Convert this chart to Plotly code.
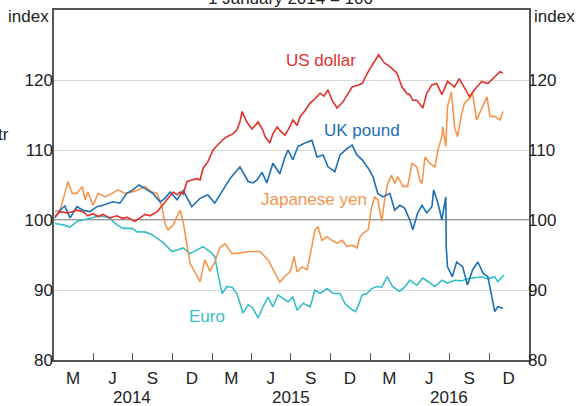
import plotly.graph_objects as go

# Index values (1 January 2014 = 100)
usd_dates = [
    "2014-01-03", "2014-01-15", "2014-02-02", "2014-02-23", "2014-03-09", "2014-03-20",
    "2014-04-01", "2014-04-13", "2014-04-24", "2014-05-10", "2014-05-26", "2014-06-09",
    "2014-06-18", "2014-06-30", "2014-07-07", "2014-07-16", "2014-07-30", "2014-08-11",
    "2014-08-27", "2014-09-07", "2014-09-19", "2014-09-26", "2014-10-03", "2014-10-12",
    "2014-10-19", "2014-10-26", "2014-11-04", "2014-11-15", "2014-11-27", "2014-12-04",
    "2014-12-11", "2014-12-22", "2015-01-03", "2015-01-12", "2015-01-26", "2015-02-04",
    "2015-02-18", "2015-02-27", "2015-03-06", "2015-03-11", "2015-03-22", "2015-04-03",
    "2015-04-17", "2015-04-28", "2015-05-03", "2015-05-14", "2015-05-21", "2015-05-31",
    "2015-06-06", "2015-06-18", "2015-06-30", "2015-07-06", "2015-07-16", "2015-07-23",
    "2015-08-03", "2015-08-15", "2015-08-26", "2015-09-07", "2015-09-16", "2015-09-25",
    "2015-10-04", "2015-10-16", "2015-10-30", "2015-11-08", "2015-11-20", "2015-12-01",
    "2015-12-13", "2015-12-27", "2016-01-04", "2016-01-11", "2016-01-20", "2016-01-29",
    "2016-02-03", "2016-02-15", "2016-03-02", "2016-03-14", "2016-03-25", "2016-04-01",
    "2016-04-08", "2016-04-17", "2016-05-01", "2016-05-10", "2016-05-22", "2016-06-02",
    "2016-06-14", "2016-06-27", "2016-07-13", "2016-07-24", "2016-08-05", "2016-08-17",
    "2016-08-28", "2016-09-14", "2016-09-28", "2016-10-14", "2016-10-26", "2016-11-02",
]
usd_vals = [
    100.5, 101.2, 101.0, 101.4, 101.2, 100.6,
    100.9, 100.5, 100.8, 100.3, 100.6, 100.2,
    100.4, 100.0, 99.8, 100.2, 100.8, 100.6,
    101.2, 102.0, 102.9, 103.5, 104.0, 103.6,
    104.0, 103.7, 105.5, 105.7, 105.9, 105.7,
    107.4, 108.3, 110.0, 110.6, 111.5, 111.9,
    112.3, 112.9, 114.0, 115.5, 114.0, 113.0,
    114.0, 112.8, 111.9, 111.0, 112.3, 113.3,
    112.8, 112.1, 113.4, 114.3, 113.5, 114.8,
    115.6, 116.7, 117.3, 118.1, 117.7, 118.6,
    117.2, 116.0, 116.9, 117.8, 119.0, 119.2,
    119.5, 121.2, 122.0, 122.6, 123.6, 122.8,
    122.4, 121.9, 121.0, 119.0, 118.1, 117.9,
    117.1, 117.1, 116.0, 118.1, 119.3, 119.5,
    117.9, 119.8, 119.0, 120.2, 118.8, 117.6,
    118.6, 119.8, 119.5, 120.5, 121.2, 121.0,
]

gbp_dates = [
    "2014-01-03", "2014-01-15", "2014-01-26", "2014-02-07", "2014-02-23", "2014-03-09",
    "2014-03-25", "2014-04-10", "2014-04-24", "2014-05-17", "2014-06-02", "2014-06-18",
    "2014-07-02", "2014-07-16", "2014-08-04", "2014-08-17", "2014-09-03", "2014-09-14",
    "2014-09-26", "2014-10-12", "2014-10-26", "2014-11-15", "2014-12-04", "2014-12-22",
    "2015-01-07", "2015-01-26", "2015-02-11", "2015-03-06", "2015-03-25", "2015-04-05",
    "2015-04-14", "2015-04-26", "2015-05-07", "2015-05-21", "2015-06-06", "2015-06-18",
    "2015-06-25", "2015-07-06", "2015-07-18", "2015-08-03", "2015-08-19", "2015-08-31",
    "2015-09-14", "2015-09-25", "2015-10-11", "2015-10-23", "2015-11-08", "2015-11-20",
    "2015-12-01", "2015-12-13", "2015-12-27", "2016-01-07", "2016-01-18", "2016-01-30",
    "2016-02-15", "2016-02-26", "2016-03-09", "2016-03-20", "2016-04-01", "2016-04-08",
    "2016-04-19", "2016-04-29", "2016-05-10", "2016-05-22", "2016-05-26", "2016-06-05",
    "2016-06-14", "2016-06-23", "2016-06-24", "2016-06-27", "2016-07-08", "2016-07-18",
    "2016-08-01", "2016-08-12", "2016-08-24", "2016-09-05", "2016-09-17", "2016-09-28",
    "2016-10-07", "2016-10-14", "2016-10-21", "2016-11-02",
]
gbp_vals = [
    100.3, 101.4, 102.0, 100.3, 101.9, 101.4,
    101.2, 101.9, 102.1, 102.6, 102.4, 103.8,
    104.3, 105.0, 104.3, 103.8, 102.6, 103.1,
    104.0, 102.9, 104.2, 101.9, 103.1, 103.6,
    102.4, 104.4, 105.9, 107.6, 105.5, 105.3,
    105.7, 106.8, 105.3, 108.1, 106.6, 109.0,
    110.0, 108.6, 110.5, 111.0, 111.4, 109.0,
    109.3, 107.6, 106.9, 109.3, 110.2, 110.7,
    109.3, 108.6, 107.4, 106.2, 103.8, 103.3,
    103.8, 101.4, 102.1, 101.7, 100.0, 98.6,
    101.0, 102.1, 101.0, 101.9, 104.3, 102.4,
    100.0, 103.3, 96.2, 93.3, 91.9, 94.0,
    93.3, 90.7, 92.9, 94.0, 92.4, 91.9,
    89.0, 86.9, 87.6, 87.4,
]

jpy_dates = [
    "2014-01-03", "2014-01-15", "2014-01-26", "2014-02-02", "2014-02-12", "2014-02-23",
    "2014-03-07", "2014-03-14", "2014-03-20", "2014-04-01", "2014-04-13", "2014-04-29",
    "2014-05-15", "2014-05-29", "2014-06-14", "2014-06-30", "2014-07-14", "2014-07-30",
    "2014-08-15", "2014-08-27", "2014-09-07", "2014-09-14", "2014-09-21", "2014-10-03",
    "2014-10-12", "2014-10-19", "2014-10-26", "2014-11-04", "2014-11-11", "2014-11-22",
    "2014-12-04", "2014-12-15", "2014-12-27", "2015-01-07", "2015-01-19", "2015-01-31",
    "2015-02-16", "2015-03-06", "2015-03-29", "2015-04-21", "2015-05-10", "2015-05-26",
    "2015-06-06", "2015-06-18", "2015-06-30", "2015-07-09", "2015-07-16", "2015-07-27",
    "2015-08-08", "2015-08-19", "2015-08-26", "2015-09-02", "2015-09-11", "2015-09-23",
    "2015-10-04", "2015-10-16", "2015-10-28", "2015-11-08", "2015-11-20", "2015-12-01",
    "2015-12-08", "2015-12-15", "2015-12-27", "2016-01-04", "2016-01-11", "2016-01-18",
    "2016-01-27", "2016-02-03", "2016-02-10", "2016-02-19", "2016-02-26", "2016-03-04",
    "2016-03-16", "2016-03-27", "2016-04-06", "2016-04-17", "2016-04-24", "2016-04-29",
    "2016-05-06", "2016-05-17", "2016-05-29", "2016-06-05", "2016-06-14", "2016-06-16",
    "2016-06-23", "2016-06-27", "2016-07-06", "2016-07-13", "2016-07-20", "2016-07-29",
    "2016-08-05", "2016-08-17", "2016-08-24", "2016-09-02", "2016-09-14", "2016-09-26",
    "2016-10-03", "2016-10-14", "2016-10-26", "2016-11-02",
]
jpy_vals = [
    101.2, 101.4, 103.8, 105.5, 103.8, 103.8,
    104.8, 102.9, 104.0, 102.1, 103.8, 103.3,
    103.8, 104.3, 103.8, 104.0, 104.3, 104.8,
    104.0, 103.8, 101.9, 99.5, 98.6, 99.3,
    100.5, 101.4, 99.8, 96.5, 93.8, 92.6,
    91.2, 94.3, 92.7, 94.0, 96.1, 96.6,
    95.2, 95.3, 95.5, 95.5, 94.3, 92.4,
    91.1, 92.0, 92.6, 94.8, 92.6, 93.3,
    92.9, 96.2, 98.6, 99.0, 97.1, 97.6,
    97.1, 96.7, 97.1, 96.2, 96.4, 96.0,
    97.6, 98.1, 98.6, 101.9, 103.3, 102.9,
    99.8, 102.9, 105.2, 106.4, 105.2, 106.2,
    104.8, 104.8, 108.1, 107.6, 105.7, 105.2,
    109.0, 108.1, 107.6, 110.0, 111.9, 113.3,
    110.5, 116.2, 118.3, 113.3, 111.9, 115.0,
    116.7, 117.4, 118.1, 114.3, 116.0, 117.6,
    114.8, 114.8, 114.3, 115.5,
]

eur_dates = [
    "2014-01-03", "2014-01-22", "2014-02-07", "2014-02-23", "2014-03-09", "2014-03-25",
    "2014-04-10", "2014-04-24", "2014-05-10", "2014-05-17", "2014-05-26", "2014-06-09",
    "2014-06-30", "2014-07-12", "2014-07-30", "2014-08-15", "2014-08-27", "2014-09-07",
    "2014-09-19", "2014-09-30", "2014-10-12", "2014-10-26", "2014-11-11", "2014-11-27",
    "2014-12-11", "2014-12-27", "2015-01-07", "2015-01-14", "2015-01-24", "2015-02-04",
    "2015-02-16", "2015-02-27", "2015-03-06", "2015-03-13", "2015-03-25", "2015-04-05",
    "2015-04-17", "2015-04-28", "2015-05-10", "2015-05-21", "2015-06-02", "2015-06-13",
    "2015-06-25", "2015-07-06", "2015-07-16", "2015-07-30", "2015-08-15", "2015-08-26",
    "2015-09-07", "2015-09-23", "2015-10-07", "2015-10-23", "2015-11-03", "2015-11-15",
    "2015-11-27", "2015-12-03", "2015-12-13", "2015-12-24", "2016-01-04", "2016-01-16",
    "2016-01-27", "2016-02-09", "2016-02-21", "2016-03-08", "2016-03-20", "2016-04-01",
    "2016-04-17", "2016-05-01", "2016-05-17", "2016-05-29", "2016-06-14", "2016-06-27",
    "2016-07-13", "2016-07-29", "2016-08-12", "2016-08-28", "2016-09-14", "2016-09-28",
    "2016-10-14", "2016-10-21", "2016-11-04",
]
eur_vals = [
    99.5, 99.3, 99.0, 99.8, 100.0, 100.3,
    100.5, 100.5, 100.3, 99.8, 99.3, 98.8,
    98.8, 98.3, 98.3, 97.9, 97.4, 96.9,
    96.2, 95.5, 95.7, 96.0, 95.2, 95.7,
    96.2, 95.5, 94.8, 92.4, 89.5, 90.5,
    90.4, 89.5, 88.1, 86.7, 87.9, 87.4,
    86.0, 87.6, 89.0, 87.6, 89.3, 88.8,
    88.3, 89.0, 87.1, 88.1, 87.6, 90.0,
    89.5, 90.2, 89.5, 89.5, 88.1, 87.4,
    86.9, 87.6, 89.3, 89.5, 90.2, 90.5,
    90.4, 91.9, 90.5, 89.8, 90.4, 91.4,
    90.7, 91.7, 91.0, 90.5, 91.4, 91.0,
    91.4, 91.3, 91.6, 91.7, 91.9, 91.6,
    91.9, 91.2, 92.1,
]

# axis ticks: quarter boundaries and quarter labels
quarter_starts = [
    "2014-04-01", "2014-07-01", "2014-10-01", "2015-01-01", "2015-04-01", "2015-07-01",
    "2015-10-01", "2016-01-01", "2016-04-01", "2016-07-01", "2016-10-01",
]
quarter_mids = [
    "2014-02-14", "2014-05-16", "2014-08-16", "2014-11-15",
    "2015-02-14", "2015-05-16", "2015-08-16", "2015-11-15",
    "2016-02-14", "2016-05-16", "2016-08-16", "2016-11-15",
]
quarter_labels = ["M", "J", "S", "D"] * 3
year_mids = ["2014-07-01", "2015-07-01", "2016-07-01"]
year_labels = ["2014", "2015", "2016"]
y_ticks = [80, 90, 100, 110, 120]

RED = "#E2312C"
BLUE = "#1B6FB5"
ORANGE = "#F5964F"
CYAN = "#36BEC8"
AXIS = "#555555"
FONT = "Liberation Sans, Arial, sans-serif"

fig = go.Figure()
# US dollar goes on the right-hand axis (same scale) so that axis gets drawn
for dates, vals, colour, yax in [
    (eur_dates, eur_vals, CYAN, "y"),
    (jpy_dates, jpy_vals, ORANGE, "y"),
    (gbp_dates, gbp_vals, BLUE, "y"),
    (usd_dates, usd_vals, RED, "y2"),
]:
    fig.add_trace(go.Scatter(x=dates, y=vals, mode="lines", yaxis=yax,
                             line=dict(color=colour, width=1.6), showlegend=False))

fig.update_layout(
    width=586, height=406,
    margin=dict(l=54, r=57, t=10, b=46),
    plot_bgcolor="white", paper_bgcolor="white",
    font=dict(family=FONT, size=17, color="#222222"),
    xaxis=dict(
        range=["2014-01-01", "2017-01-01"], automargin=False,
        tickmode="array", tickvals=quarter_mids, ticktext=quarter_labels,
        ticks="", showgrid=False, zeroline=False,
        showline=True, linecolor=AXIS, linewidth=1.5, mirror=True,
        ticklabelstandoff=2,
        minor=dict(tickmode="array", tickvals=quarter_starts, ticks="inside",
                   ticklen=7, tickcolor=AXIS, tickwidth=1, showgrid=False),
    ),
    yaxis=dict(
        range=[80, 130], tickmode="array", tickvals=y_ticks, automargin=False,
        ticks="", showgrid=True, gridcolor="#d9d9d9", gridwidth=1, zeroline=False,
        showline=True, linecolor=AXIS, linewidth=1.5, mirror=True,
        ticklabelstandoff=-4,
    ),
    yaxis2=dict(
        range=[80, 130], tickmode="array", tickvals=y_ticks, automargin=False,
        overlaying="y", side="right", ticks="", showgrid=False,
        zeroline=False, showline=False, ticklabelstandoff=-2,
    ),
)

# dark reference line at 100
fig.add_shape(type="line", xref="paper", x0=0, x1=1, yref="y", y0=100, y1=100,
              line=dict(color="#777777", width=1.5), layer="between")

# year labels under the quarter labels
for xm, yl in zip(year_mids, year_labels):
    fig.add_annotation(x=xm, y=-0.108, xref="x", yref="paper", text=yl,
                       showarrow=False, xanchor="center", yanchor="middle")

notes = [
    ("index", -0.006, 0.981, "right", "#222222"),
    ("index", 1.006, 0.981, "left", "#222222"),
    ("tr", -0.091, 0.643, "right", "#222222"),
    ("1 January 2014 = 100", 0.497, 1.034, "center", "#222222"),
    ("US dollar", 0.562, 0.857, "center", RED),
    ("UK pound", 0.648, 0.657, "center", BLUE),
    ("Japanese yen", 0.547, 0.46, "center", ORANGE),
    ("Euro", 0.323, 0.123, "center", CYAN),
]
for txt, xp, yp, anchor, colour in notes:
    fig.add_annotation(x=xp, y=yp, xref="paper", yref="paper", text=txt,
                       showarrow=False, xanchor=anchor, yanchor="middle",
                       font=dict(color=colour))

# the page body has a default 8px margin; drop it so the figure sits at the corner
fig.write_html("out.html", config={"displayModeBar": False},
               post_script="document.body.style.margin = '0';")
